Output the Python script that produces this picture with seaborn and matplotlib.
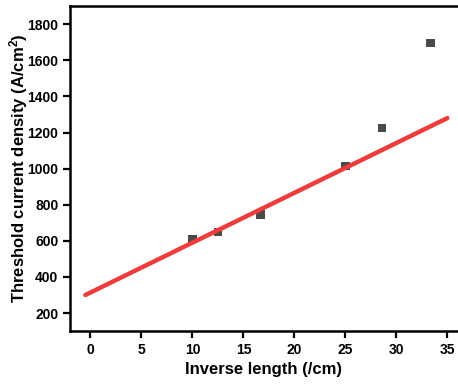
import numpy as np
import pandas as pd
import matplotlib
matplotlib.use("Agg")
import matplotlib.pyplot as plt
import seaborn as sns

# Data
inverse_length = [10.0, 12.5, 16.67, 25.0, 28.57, 33.33]
threshold_density = [610, 650, 745, 1015, 1225, 1695]

# Linear fit line (endpoints)
fit_x = [-0.5, 35.0]
fit_y = [300, 1280]

x_ticks = [0, 5, 10, 15, 20, 25, 30, 35]
y_ticks = [200, 400, 600, 800, 1000, 1200, 1400, 1600, 1800]

sns.set_style("ticks")
plt.rcParams['font.family'] = ['Liberation Sans', 'DejaVu Sans']
plt.rcParams['font.weight'] = 'bold'
plt.rcParams['mathtext.default'] = 'regular'
plt.rcParams['text.color'] = 'black'
plt.rcParams['axes.labelcolor'] = 'black'
plt.rcParams['xtick.color'] = 'black'
plt.rcParams['ytick.color'] = 'black'

points = pd.DataFrame({"x": inverse_length, "y": threshold_density})
fit = pd.DataFrame({"x": fit_x, "y": fit_y})

fig = plt.figure(figsize=(4.58, 3.85), dpi=100)
ax = fig.add_axes([0.153, 0.140, 0.846, 0.844])

sns.lineplot(data=fit, x="x", y="y", ax=ax, color="#EE3B3B", linewidth=3.2, zorder=3)
sns.scatterplot(data=points, x="x", y="y", ax=ax, marker="s", s=38,
                color="#4a4a4a", edgecolor="none", zorder=2)

ax.set_xlim(-2, 36)
ax.set_ylim(100, 1900)
ax.set_xticks(x_ticks)
ax.set_yticks(y_ticks)

ax.set_xlabel("Inverse length (/cm)", fontsize=12, fontweight='bold', labelpad=4)
ax.set_ylabel("Threshold current density (A/cm$^2$)", fontsize=12, fontweight='bold', labelpad=-2)

ax.tick_params(axis='both', labelsize=10, width=1.6, length=5, direction='out',
               colors='black')
for lbl in ax.get_xticklabels() + ax.get_yticklabels():
    lbl.set_fontweight('bold')
for sp in ax.spines.values():
    sp.set_linewidth(1.8)
    sp.set_color("black")
# the right border is cut off in the original figure
ax.spines['right'].set_visible(False)

fig.savefig("out.png", dpi=100)
